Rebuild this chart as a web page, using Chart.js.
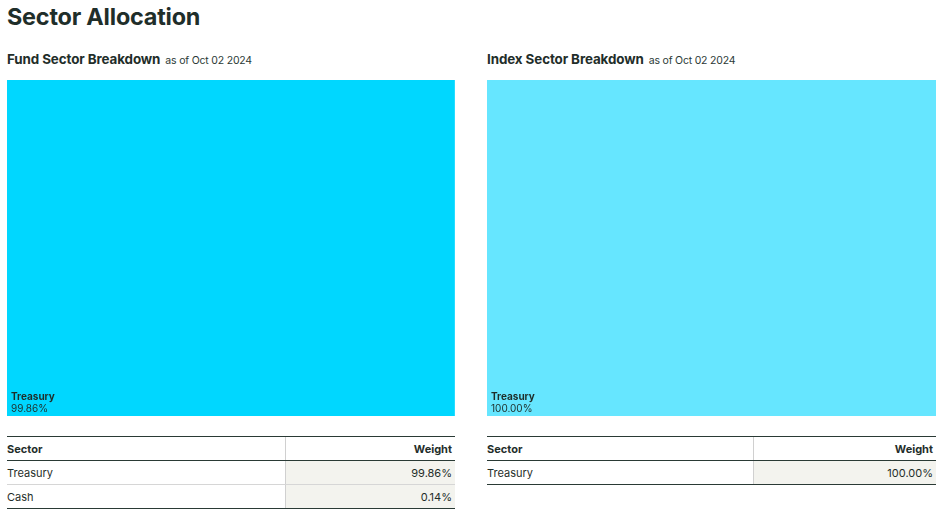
<!DOCTYPE html>
<html>
<head>
<meta charset="utf-8">
<script src="https://cdn.jsdelivr.net/npm/chart.js@4"></script>
<style>
  html, body { margin: 0; padding: 0; background: #ffffff; }
  body { width: 940px; height: 517px; position: relative; overflow: hidden; font-family: Inter, "Open Sans", sans-serif; color: #1f2e2a; }
  h1 { position: absolute; left: 7px; top: 2px; margin: 0; font-size: 23.4px; font-weight: 700; letter-spacing: -0.2px; }
  .sub { position: absolute; top: 51px; margin: 0; font-size: 13.4px; font-weight: 700; white-space: nowrap; letter-spacing: -0.1px; }
  .sub span { font-size: 10.5px; font-weight: 400; margin-left: 5px; color: #2b3a36; letter-spacing: -0.2px; }
  .box { position: absolute; top: 80px; height: 336px; }
  .box canvas { display: block; }
  table { position: absolute; top: 436px; border-collapse: collapse; font-size: 11px; }
  th, td { height: 23px; padding: 0 3px 0 0; }
  thead th { font-weight: 700; border-top: 1.5px solid #2a3a35; border-bottom: 1.5px solid #2a3a35; }
  th.s, td.s { text-align: left; padding-left: 0; }
  th.w, td.w { text-align: right; border-left: 1px solid #d0d0d0; padding-right: 3px; }
  td.w { background: #f3f3ee; }
  tbody td { border-bottom: 1px solid #d6d6d6; }
  tbody tr:last-child td { border-bottom: 1.5px solid #2a3a35; }
</style>
</head>
<body>
<h1>Sector Allocation</h1>
<div class="sub" style="left:7px">Fund Sector Breakdown<span>as of Oct 02 2024</span></div>
<div class="sub" style="left:487px">Index Sector Breakdown<span>as of Oct 02 2024</span></div>
<div class="box" style="left:7px;width:448px"><canvas id="fund" width="448" height="336"></canvas></div>
<div class="box" style="left:487px;width:449px"><canvas id="index" width="449" height="336"></canvas></div>
<table id="fundTable" style="left:7px;width:448px"></table>
<table id="indexTable" style="left:487px;width:449px"></table>
<script>
const fundSectors = ["Treasury", "Cash"];
const fundWeights = [99.86, 0.14];
const indexSectors = ["Treasury"];
const indexWeights = [100.00];
const fundColors = ["#00d7ff", "#7fe9ff"];
const indexColors = ["#66e6ff"];

const labelPlugin = {
  id: 'tileLabels',
  afterDatasetsDraw(chart) {
    const ctx = chart.ctx;
    const area = chart.chartArea;
    chart.data.datasets.forEach((ds, i) => {
      const meta = chart.getDatasetMeta(i);
      const bar = meta.data[0];
      if (!bar) return;
      const left = Math.min(bar.base, bar.x);
      const w = Math.abs(bar.x - bar.base);
      if (w < 60) return;
      ctx.save();
      ctx.fillStyle = '#1f2e2a';
      ctx.textBaseline = 'alphabetic';
      ctx.font = '700 10px Inter, "Open Sans", sans-serif';
      ctx.fillText(ds.label, left + 4, area.bottom - 16);
      ctx.font = '400 10px Inter, "Open Sans", sans-serif';
      ctx.fillText(ds.data[0].toFixed(2) + '%', left + 4, area.bottom - 4);
      ctx.restore();
    });
  }
};

function makeTile(id, sectors, weights, colors) {
  new Chart(document.getElementById(id), {
    type: 'bar',
    data: {
      labels: ['Sector'],
      datasets: sectors.map((s, i) => ({
        label: s,
        data: [weights[i]],
        backgroundColor: colors[i],
        borderWidth: 0,
        barPercentage: 1,
        categoryPercentage: 1
      }))
    },
    options: {
      indexAxis: 'y',
      responsive: false,
      animation: false,
      maintainAspectRatio: false,
      layout: { padding: 0 },
      scales: {
        x: { stacked: true, min: 0, max: 100, display: false },
        y: { stacked: true, display: false }
      },
      plugins: { legend: { display: false }, tooltip: { enabled: false } }
    },
    plugins: [labelPlugin]
  });
}

function makeTable(id, sectors, weights) {
  const t = document.getElementById(id);
  let html = '<thead><tr><th class="s">Sector</th><th class="w">Weight</th></tr></thead><tbody>';
  sectors.forEach((s, i) => {
    html += '<tr><td class="s">' + s + '</td><td class="w">' + weights[i].toFixed(2) + '%</td></tr>';
  });
  html += '</tbody>';
  t.innerHTML = html;
}

makeTile('fund', fundSectors, fundWeights, fundColors);
makeTile('index', indexSectors, indexWeights, indexColors);
makeTable('fundTable', fundSectors, fundWeights);
makeTable('indexTable', indexSectors, indexWeights);
document.querySelector('#fundTable th.s').style.width = '275px';
document.querySelector('#indexTable th.s').style.width = '263px';
</script>
</body>
</html>
